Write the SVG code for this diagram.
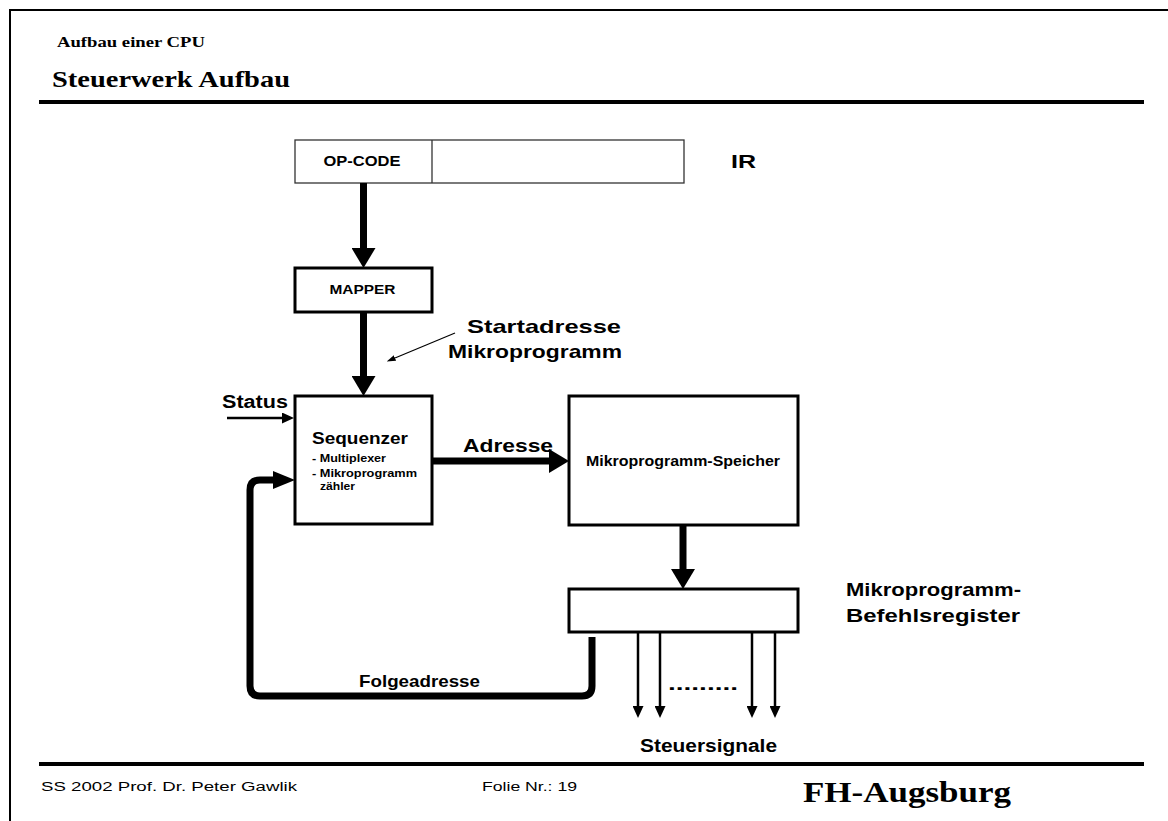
<svg xmlns="http://www.w3.org/2000/svg" width="1168" height="821" viewBox="0 0 1168 821">
  <style>
    .frame { stroke: #000; fill: none; }
    .box { fill: #fff; stroke: #000; stroke-width: 3; }
    .reg { fill: #fff; stroke: #333; stroke-width: 1.3; }
    .sans { font-family: "Liberation Sans", Arial, sans-serif; font-weight: bold; fill: #000; }
    .serif { font-family: "Liberation Serif", "Times New Roman", serif; font-weight: bold; fill: #000; }
    .plain { font-family: "Liberation Sans", Arial, sans-serif; fill: #000; }
    .bus { fill: none; stroke: #000; stroke-width: 7; }
    .wire { fill: none; stroke: #000; stroke-width: 2.5; }
    .hair { fill: none; stroke: #000; stroke-width: 1.2; }
  </style>
  <defs>
    <marker id="headBig" markerUnits="userSpaceOnUse" viewBox="0 0 20 24" markerWidth="20" markerHeight="24" refX="0" refY="12" orient="auto">
      <path d="M0,0 L20,12 L0,24 Z" fill="#000"/>
    </marker>
    <marker id="headLoop" markerUnits="userSpaceOnUse" viewBox="0 0 22 18" markerWidth="22" markerHeight="18" refX="0" refY="9" orient="auto">
      <path d="M0,0 L22,9 L0,18 Z" fill="#000"/>
    </marker>
    <marker id="headSmall" markerUnits="userSpaceOnUse" viewBox="0 0 12 11" markerWidth="12" markerHeight="11" refX="0" refY="5.5" orient="auto">
      <path d="M0,0 L12,5.5 L0,11 Z" fill="#000"/>
    </marker>
    <marker id="headTiny" markerUnits="userSpaceOnUse" viewBox="0 0 9 6" markerWidth="9" markerHeight="6" refX="0" refY="3" orient="auto">
      <path d="M0,0 L9,3 L0,6 Z" fill="#000"/>
    </marker>
  </defs>

  <rect width="1168" height="821" fill="#fff"/>

  <!-- slide frame and header / footer rules -->
  <g id="frame">
    <line class="frame" x1="9" y1="10" x2="1168" y2="10" stroke-width="2"/>
    <line class="frame" x1="10" y1="9" x2="10" y2="821" stroke-width="2"/>
    <line class="frame" x1="39" y1="102" x2="1144" y2="102" stroke-width="4"/>
    <line class="frame" x1="39" y1="764" x2="1144" y2="764" stroke-width="4"/>
  </g>

  <g id="header">
    <text class="serif" x="57" y="47" font-size="14" textLength="148" lengthAdjust="spacingAndGlyphs">Aufbau einer CPU</text>
    <text class="serif" x="52" y="87" font-size="24" textLength="238" lengthAdjust="spacingAndGlyphs">Steuerwerk Aufbau</text>
  </g>

  <!-- instruction register -->
  <g id="ir">
    <rect class="reg" x="295" y="140" width="389" height="43"/>
    <line class="reg" x1="432" y1="140" x2="432" y2="183"/>
    <text class="sans" x="323.5" y="166" font-size="14.5" textLength="77" lengthAdjust="spacingAndGlyphs">OP-CODE</text>
    <text class="sans" x="731" y="168" font-size="19" textLength="25" lengthAdjust="spacingAndGlyphs">IR</text>
  </g>

  <g id="mapper">
    <rect class="box" x="295" y="268" width="137" height="44"/>
    <text class="sans" x="329.5" y="294" font-size="13.5" textLength="66" lengthAdjust="spacingAndGlyphs">MAPPER</text>
  </g>

  <g id="sequenzer">
    <rect class="box" x="295" y="396" width="137" height="128"/>
    <text class="sans" x="312" y="444" font-size="17" textLength="96" lengthAdjust="spacingAndGlyphs">Sequenzer</text>
    <text class="sans" x="312" y="462" font-size="10" textLength="74" lengthAdjust="spacingAndGlyphs">- Multiplexer</text>
    <text class="sans" x="312" y="477" font-size="10" textLength="105" lengthAdjust="spacingAndGlyphs">- Mikroprogramm</text>
    <text class="sans" x="320" y="490" font-size="10" textLength="35" lengthAdjust="spacingAndGlyphs">zähler</text>
  </g>

  <g id="speicher">
    <rect class="box" x="569" y="396" width="229" height="129"/>
    <text class="sans" x="683" y="466" font-size="15" text-anchor="middle" textLength="194" lengthAdjust="spacingAndGlyphs">Mikroprogramm-Speicher</text>
  </g>

  <g id="befehlsregister">
    <rect class="box" x="569" y="589" width="229" height="43"/>
    <text class="sans" x="846" y="596" font-size="19" textLength="175" lengthAdjust="spacingAndGlyphs">Mikroprogramm-</text>
    <text class="sans" x="846" y="622" font-size="19" textLength="174" lengthAdjust="spacingAndGlyphs">Befehlsregister</text>
  </g>

  <!-- connectors -->
  <g id="connectors">
    <path class="bus" d="M363.5,183 V248" marker-end="url(#headBig)"/>
    <path class="bus" d="M363.5,312 V376" marker-end="url(#headBig)"/>
    <path class="bus" d="M432,461 H549" marker-end="url(#headBig)"/>
    <path class="bus" d="M683,525 V569" marker-end="url(#headBig)"/>
    <path class="bus" d="M592,637 V686 Q592,696 582,696 H260 Q250,696 250,686 V490 Q250,480 260,480 H273" marker-end="url(#headLoop)"/>
    <path class="wire" d="M227,418 H282" stroke-width="3.5" marker-end="url(#headSmall)"/>
    <path class="hair" d="M455,333 L395,358" marker-end="url(#headTiny)"/>
    <path class="wire" d="M638,632 V706" marker-end="url(#headSmall)"/>
    <path class="wire" d="M660,632 V706" marker-end="url(#headSmall)"/>
    <path class="wire" d="M752,632 V706" marker-end="url(#headSmall)"/>
    <path class="wire" d="M775,632 V706" marker-end="url(#headSmall)"/>
  </g>

  <g id="labels">
    <text class="sans" x="621" y="333" font-size="19" text-anchor="end" textLength="154" lengthAdjust="spacingAndGlyphs">Startadresse</text>
    <text class="sans" x="622" y="358" font-size="19" text-anchor="end" textLength="174" lengthAdjust="spacingAndGlyphs">Mikroprogramm</text>
    <text class="sans" x="222" y="408" font-size="18" textLength="66" lengthAdjust="spacingAndGlyphs">Status</text>
    <text class="sans" x="463" y="452" font-size="19" textLength="90" lengthAdjust="spacingAndGlyphs">Adresse</text>
    <text class="sans" x="359" y="687" font-size="17" textLength="121" lengthAdjust="spacingAndGlyphs">Folgeadresse</text>
    <text class="sans" x="668" y="690" font-size="19" textLength="70" lengthAdjust="spacingAndGlyphs">.........</text>
    <text class="sans" x="640" y="752" font-size="18" textLength="137" lengthAdjust="spacingAndGlyphs">Steuersignale</text>
  </g>

  <g id="footer">
    <text class="plain" x="41" y="791" font-size="12.5" textLength="256" lengthAdjust="spacingAndGlyphs">SS 2002 Prof. Dr. Peter Gawlik</text>
    <text class="plain" x="482" y="791" font-size="12.5" textLength="95" lengthAdjust="spacingAndGlyphs">Folie Nr.: 19</text>
    <text class="serif" x="803" y="802" font-size="30" textLength="208" lengthAdjust="spacingAndGlyphs">FH-Augsburg</text>
  </g>
</svg>
